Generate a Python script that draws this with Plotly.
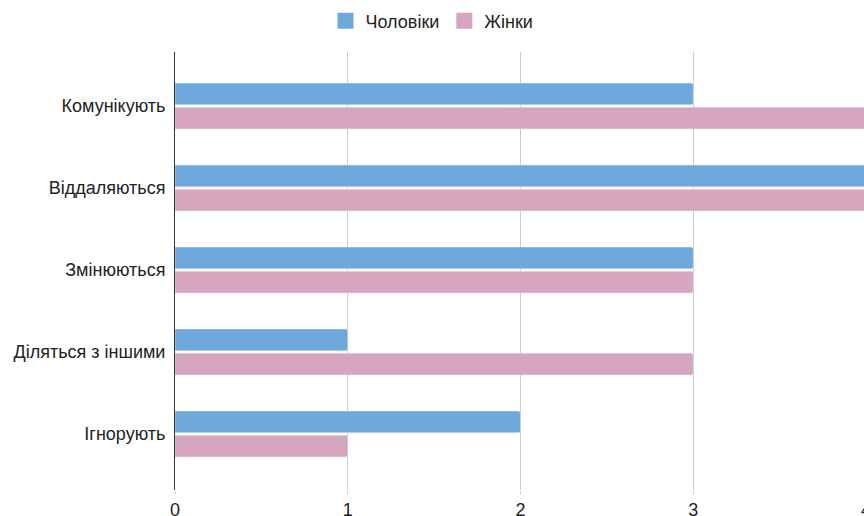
import plotly.graph_objects as go

categories = ["Комунікують", "Віддаляються", "Змінюються", "Діляться з іншими", "Ігнорують"]
men = [3, 4, 3, 1, 2]
women = [4, 4, 3, 3, 1]
tick_vals = [0, 1, 2, 3, 4]

blue = "#6fa8dc"
pink = "#d5a6bd"

fig = go.Figure()

fig.add_trace(
    go.Bar(
        y=categories, x=men, name="Чоловіки", orientation="h",
        marker=dict(color=blue, cornerradius=2), showlegend=False,
    )
)
fig.add_trace(
    go.Bar(
        y=categories, x=women, name="Жінки", orientation="h",
        marker=dict(color=pink, cornerradius=2), showlegend=False,
    )
)

# legend-only entries so the swatches are big squares like the original
for name, color in [("Чоловіки", blue), ("Жінки", pink)]:
    fig.add_trace(
        go.Scatter(
            x=[None], y=[None], mode="markers", name=name,
            marker=dict(symbol="square", size=18, color=color),
        )
    )

# figure is a bit wider than the window, so the "4" tick gets cut at the edge
fig.update_layout(
    width=880,
    height=516,
    margin=dict(l=175, r=14, t=52, b=26),
    plot_bgcolor="white",
    paper_bgcolor="white",
    font=dict(family="Liberation Sans, Arial, sans-serif", size=18, color="#222222"),
    barmode="group",
    bargap=0.41,
    bargroupgap=0.1,
    legend=dict(
        orientation="h",
        xref="paper",
        x=(432 - 175) / 691,
        xanchor="center",
        yref="container",
        y=0.995,
        yanchor="top",
        font=dict(size=18, color="#222222"),
        itemsizing="trace",
        itemwidth=30,
    ),
    xaxis=dict(
        range=[0, 4],
        tickvals=tick_vals,
        tickfont=dict(color="#222222"),
        showgrid=True,
        gridcolor="#cccccc",
        zeroline=False,
        ticks="outside",
        ticklen=3,
        tickcolor="#cccccc",
        showline=False,
        automargin=False,
    ),
    yaxis=dict(
        range=[4.683, -0.659],
        tickfont=dict(color="#222222"),
        showgrid=False,
        showline=True,
        linecolor="#333333",
        linewidth=1,
        ticks="",
        ticksuffix=" ",
        automargin=False,
    ),
)

fig.write_html(
    "out.html",
    config={"displayModeBar": False},
    post_script="document.body.style.margin='0px'; document.body.style.overflow='hidden';",
)
